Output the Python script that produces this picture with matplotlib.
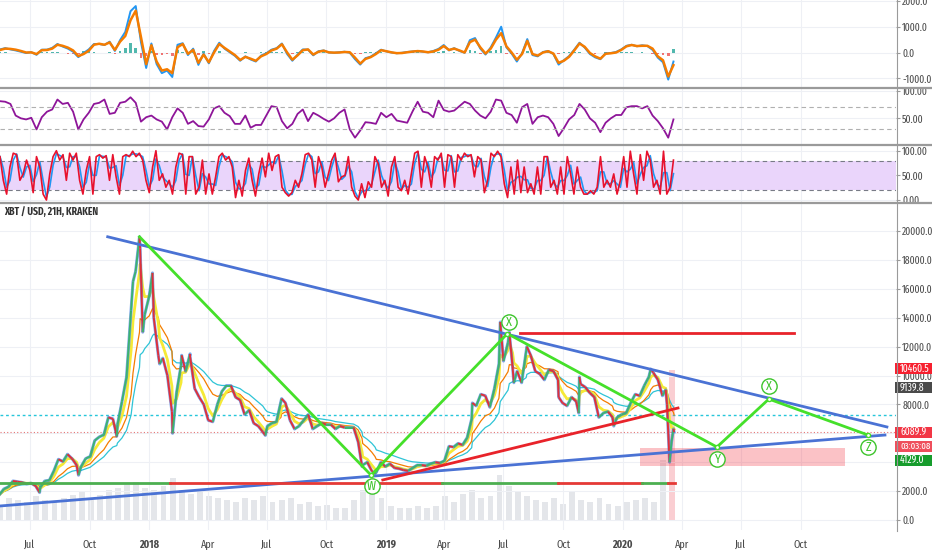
import matplotlib
matplotlib.use('Agg')
import matplotlib.pyplot as plt
from matplotlib.collections import LineCollection
from matplotlib.lines import Line2D
from matplotlib.patches import Rectangle
from matplotlib.ticker import FormatStrFormatter
import matplotlib.dates as mdates
import numpy as np
import pandas as pd

plt.rcParams['font.family'] = ['Fira Sans Extra Condensed', 'DejaVu Sans']

# ---- price data (weekly closes, Kraken XBT/USD) ----
week_start = '2017-05-15'
weekly_close = [1750, 2150, 2300,
                2700, 2650, 2600, 2500,
                2550, 2350, 2250, 2700, 2750,
                3400, 4200, 4050, 4550,
                4250, 3800, 3700, 4250,
                4400, 5500, 5750, 5900, 7100,
                7000, 6600, 8200, 9900,
                14500, 17200, 18800, 14200,
                15500, 14000, 11400, 11200, 10000,
                7500, 8800, 10700, 10300,
                11300, 9100, 8500, 8000,
                6900, 6800, 8000, 8900, 9300,
                9300, 8500, 8300, 7300,
                7600, 6700, 6500, 6100,
                6500, 6700, 6800, 8200, 8100,
                6900, 6300, 6500, 6900,
                7300, 6300, 6500, 6700,
                6600, 6600, 6300, 6500, 6400,
                6400, 6400, 5400, 3800,
                4000, 3400, 3300, 4000, 3700,
                3900, 3600, 3550, 3450,
                3400, 3600, 3800, 3800,
                3750, 3900, 4000, 3950,
                4100, 5100, 5050, 5300, 5200,
                5700, 7000, 7900, 8700,
                8600, 7800, 9100, 10800,
                11000, 12300, 10600, 10300, 9500,
                11700, 11400, 10300, 10100,
                9700, 10400, 10300, 9700, 8100,
                7900, 8500, 8200, 9400,
                9200, 8800, 8500, 7100,
                7400, 7500, 7100, 7100, 7300,
                7400, 8100, 8700, 8600,
                9300, 9900, 10200, 9700,
                8600, 8000, 5400]
spike_dates = ['2017-07-16', '2017-09-14', '2017-11-12', '2017-12-07', '2017-12-17',
               '2017-12-22', '2018-01-06', '2018-01-17', '2018-02-06', '2018-02-20',
               '2018-03-05', '2018-06-29', '2018-07-24', '2018-11-25', '2018-12-15',
               '2019-05-14', '2019-06-26', '2019-07-10', '2019-07-17', '2019-08-06',
               '2019-09-24', '2019-10-25', '2019-10-26', '2019-12-18', '2020-02-13',
               '2020-03-07', '2020-03-13', '2020-03-19', '2020-03-20']
spike_prices = [1900, 3100, 5800, 16500, 19600,
                13000, 17100, 10800, 6000, 11400,
                11500, 5850, 8400, 3700, 3200,
                8100, 13700, 13000, 9500, 12000,
                8500, 7400, 9900, 6500, 10450,
                9000, 4000, 6300, 6090]

# volume, every 14 days from the first bar
vol_start = '2017-05-16'
volume = [15, 22, 20, 18, 24, 20, 18, 22, 25, 28,
          20, 25, 30, 32, 35, 38, 32, 30, 34, 42,
          30, 26, 28, 24, 22, 20, 18, 22, 20, 24,
          18, 20, 22, 16, 18, 14, 15, 12, 12, 20,
          30, 26, 22, 14, 12, 12, 14, 12, 14, 24,
          18, 26, 30, 22, 24, 45, 34, 28, 24, 20,
          18, 22, 16, 28, 20, 18, 22, 16, 14, 18,
          20, 22, 18, 60, 150]

# ---- oscillators (evenly spaced from first to last bar) ----
osc_start, osc_end = '2017-05-16', '2020-03-19'
macd_signal = [97, 150, 140, 110, 60, 0, 5, -60, 90, 97,
               150, 300, 260, 190, 80, -140, -60, 70, 300, 340,
               300, 390, 100, 420, 640, 1250, 1620, 600, -450, 280,
               -350, -700, -650, -800, 200, 330, -50, 100, -400, -80,
               -380, 0, 330, 180, 40, -100, -290, -170, -240, -320,
               -150, -60, 80, 150, 320, 0, -280, -110, 90, 120,
               -80, 30, 70, 5, -5, 0, 20, 10, -200, -430,
               -250, -180, -60, 90, 50, 5, -25, -20, 10, 35,
               55, 40, 10, 40, 110, 250, 100, 150, 80, 0,
               400, 500, 200, -40, 150, 500, 750, 240, 0, -280,
               -60, 450, -60, -120, 0, 50, -40, -400, -320, -170,
               80, 350, 220, -20, -150, -240, -50, -30, 0, 100,
               240, 290, 250, 260, 260, 150, -150, -300, -930, -490]
macd_line = [120, 170, 120, 80, 30, -20, 10, -90, 110, 110,
             180, 330, 230, 150, 30, -180, -20, 120, 330, 330,
             290, 420, 60, 480, 800, 1600, 1800, 400, -600, 350,
             -450, -800, -700, -950, 300, 360, -100, 150, -480, -40,
             -420, 60, 380, 150, 10, -130, -320, -150, -270, -350,
             -120, -30, 110, 170, 350, -60, -320, -80, 120, 110,
             -110, 50, 80, 0, -10, 10, 30, -10, -260, -470,
             -220, -160, -30, 110, 40, 0, -30, -10, 20, 40,
             60, 30, 10, 60, 140, 290, 80, 170, 60, -10,
             480, 560, 150, -80, 200, 580, 1000, 200, -40, -350,
             -30, 520, -100, -150, 20, 60, -60, -470, -300, -140,
             110, 380, 190, -60, -190, -260, -30, -20, 20, 120,
             260, 300, 240, 280, 250, 100, -200, -380, -1050, -350]
rsi = [81, 80, 76, 55, 50, 48, 51, 30, 52, 62,
       66, 84, 76, 78, 62, 30, 48, 60, 76, 78,
       84, 58, 60, 78, 80, 88, 78, 44, 52, 55,
       48, 44, 30, 52, 68, 60, 40, 45, 36, 35,
       48, 68, 72, 60, 54, 40, 40, 55, 33, 38,
       38, 55, 72, 70, 45, 32, 40, 58, 66, 45,
       60, 55, 49, 44, 50, 60, 66, 30, 15, 28,
       43, 42, 40, 60, 52, 58, 46, 44, 42, 62,
       80, 62, 60, 52, 82, 65, 62, 64, 72, 80,
       76, 64, 55, 50, 62, 84, 82, 60, 56, 42,
       70, 76, 40, 52, 55, 52, 40, 18, 32, 48,
       56, 76, 66, 50, 42, 25, 42, 50, 56, 56,
       70, 72, 72, 68, 72, 55, 45, 32, 15, 48]
stoch_k = [88, 40, 12, 67, 95, 92, 40, 53, 81, 60, 15, 88, 67, 12, 0, 53, 88, 100, 81, 92,
           40, 95, 81, 95, 40, 12, 60, 88, 12, 88, 92, 85, 90, 40, 92, 47, 12, 88, 92, 88,
           99, 88, 95, 81, 40, 15, 67, 100, 40, 53, 26, 40, 12, 67, 95, 92, 12, 88, 88, 12,
           26, 81, 12, 53, 12, 47, 88, 95, 81, 88, 67,
           5, 40, 8, 60, 85, 40, 8, 53, 85, 47, 95, 60, 88, 92, 26, 15, 8, 15, 40, 26,
           53, 92, 95, 81, 26, 88, 67, 26, 53, 81, 95, 37, 47, 50, 88, 26, 8, 0, 33, 5,
           37, 26, 88, 74, 26, 40, 8, 67, 88, 26, 19, 40, 12, 53, 95, 99, 26, 88, 67, 26,
           88, 81, 95, 26, 92, 88, 26,
           92, 81, 95, 88, 92, 47, 88, 81, 15, 40, 95, 88, 99, 88, 33, 5, 67, 12, 81, 15,
           67, 15, 33, 12, 67, 12, 88, 88, 26, 40, 12, 67, 12, 88, 53, 12, 67, 26, 12, 12,
           19, 12, 26, 88, 26, 40, 26, 53, 12, 40, 88, 26, 99, 53, 12, 92, 40, 99, 81, 26,
           40, 12, 99, 12, 26, 81]

# ---- drawings on the price pane ----
desc_dates, desc_prices = ['2017-10-29', '2021-02-11'], [19600, 6440]
asc_dates, asc_prices = ['2017-05-16', '2021-02-08'], [970, 5880]
wave_dates = ['2017-12-17', '2018-12-09', '2019-07-07', '2020-05-25', '2020-08-13', '2021-01-13']
wave_prices = [19600, 3100, 12900, 5050, 8370, 5880]
wave_labels = ['W', 'X', 'Y', 'X', 'Z']
label_dates = ['2018-12-10', '2019-07-09', '2020-05-25', '2020-08-13', '2021-01-13']
label_prices = [2350, 13700, 4220, 9270, 5050]
rise_dates, rise_prices = ['2018-12-27', '2020-03-26'], [2770, 7750]
top_dates, top_price = ['2019-07-26', '2020-09-21'], 12940
support_dates = ['2017-05-16', '2018-02-02', '2019-03-28', '2019-09-23', '2020-01-30', '2020-03-11', '2020-03-21']
support_price = 2560
zone_dates, zone_low, zone_high = ['2020-01-27', '2020-12-08'], 3740, 4980
cyan_level, red_level = 7270, 6090
price_ticks = [0, 2000, 8000, 10000, 12000, 14000, 16000, 18000, 20000]
tags = [(10460.5, '10460.5', '#f7202f'), (9139.8, '9139.8', '#4a4a4a'),
        (6089.9, '6089.9', '#f23645'), (5120, '03:03:08', '#ef4f5c'),
        (4129.0, '4129.0', '#169c2c')]

tick_dates = ['2017-07-01', '2017-10-01', '2018-01-01', '2018-04-01', '2018-07-01', '2018-10-01',
              '2019-01-01', '2019-04-01', '2019-07-01', '2019-10-01', '2020-01-01', '2020-04-01',
              '2020-07-01', '2020-10-01']
tick_labels = ['Jul', 'Oct', '2018', 'Apr', 'Jul', 'Oct', '2019', 'Apr', 'Jul', 'Oct', '2020', 'Apr', 'Jul', 'Oct']

# ---- build series ----
price = pd.concat([
    pd.Series(weekly_close, index=pd.date_range(week_start, periods=len(weekly_close), freq='7D')),
    pd.Series(spike_prices, index=pd.to_datetime(spike_dates))]).sort_index()
ema_fast = price.ewm(halflife='6 days', times=price.index).mean()
ema_mid = price.ewm(halflife='18 days', times=price.index).mean()
ema_slow = price.ewm(halflife='32 days', times=price.index).mean()

osc_idx = pd.date_range(osc_start, osc_end, periods=len(macd_signal))
rsi_idx = pd.date_range(osc_start, osc_end, periods=len(rsi))
st_idx = pd.date_range(osc_start, osc_end, periods=len(stoch_k))
stoch_d = pd.Series(stoch_k).rolling(2, min_periods=1).mean()
hist = np.array(macd_line) - np.array(macd_signal)

W, H = 932, 550
fig = plt.figure(figsize=(W / 100, H / 100), dpi=100)


def rect(top, bottom):
    return [0, 1 - bottom / H, 896 / W, (bottom - top) / H]


ax_macd = fig.add_axes(rect(0, 88))
ax_rsi = fig.add_axes(rect(89, 144), sharex=ax_macd)
ax_st = fig.add_axes(rect(145, 202), sharex=ax_macd)
ax = fig.add_axes(rect(203, 530), sharex=ax_macd)
ax_vol = ax.twinx()
ax_vol.set_zorder(ax.get_zorder() - 1)
ax.patch.set_visible(False)
ax_vol.axis('off')

grid_c = '#eef0f5'
for a in (ax_macd, ax_rsi, ax_st, ax):
    for s in a.spines.values():
        s.set_visible(False)
    a.yaxis.tick_right()
    a.tick_params(axis='y', direction='out', length=3, color='#9a9a9a', labelsize=7.5,
                  labelcolor='#4a4a4a', pad=1.5)
    a.tick_params(axis='x', length=0, labelbottom=False)
    a.grid(True, color=grid_c, lw=0.8)
    a.set_axisbelow(True)

ax.set_xlim(pd.Timestamp('2017-05-16'), pd.Timestamp('2021-02-25'))
ax.set_xticks(pd.to_datetime(tick_dates), tick_labels)
ax.tick_params(axis='x', labelbottom=True, labelsize=8, labelcolor='#4a4a4a', pad=7)
for t in ax.get_xticklabels():
    if t.get_text().isdigit():
        t.set_fontweight('bold')

# ---- MACD pane ----
ax_macd.bar(osc_idx, hist, width=4, color=np.where(hist >= 0, '#26a69a', '#ef5350'), alpha=0.8)
ax_macd.plot(osc_idx, macd_line, color='#2196f3', lw=1.4)
ax_macd.plot(osc_idx, macd_signal, color='#f57c00', lw=1.8)
ax_macd.set_ylim(-1376, 2035)
ax_macd.set_yticks([2000, 1000, 0, -1000])
ax_macd.yaxis.set_major_formatter(FormatStrFormatter('%.1f'))

# ---- RSI pane ----
ax_rsi.plot(rsi_idx, rsi, color='#8e1599', lw=1.3)
for lvl in (70, 30):
    ax_rsi.axhline(lvl, color='#b0b0b0', lw=0.8, ls=(0, (4, 3)))
ax_rsi.set_ylim(3.6, 103)
ax_rsi.set_yticks([100, 50])
ax_rsi.yaxis.set_major_formatter(FormatStrFormatter('%.2f'))

# ---- Stoch RSI pane ----
ax_st.axhspan(20, 80, color='#ead5fb', lw=0)
for lvl in (80, 20):
    ax_st.axhline(lvl, color='#787b86', lw=0.8, ls=(0, (4, 3)))
ax_st.plot(st_idx, stoch_d, color='#2196f3', lw=1.2)
ax_st.plot(st_idx, stoch_k, color='#e8112d', lw=1.2)
ax_st.set_ylim(-4, 111.6)
ax_st.set_yticks([100, 50, 0])
ax_st.yaxis.set_major_formatter(FormatStrFormatter('%.2f'))

# ---- price pane ----
ax.set_ylim(-692, 21938)
ax.set_yticks(price_ticks)
ax.yaxis.set_major_formatter(FormatStrFormatter('%.1f'))
for lvl in (4000, 6000):
    ax.axhline(lvl, color=grid_c, lw=0.8, zorder=0)

vol_idx = pd.date_range(vol_start, periods=len(volume), freq='14D')
vol_col = ['#f6a6ad' if v > 100 else '#cfd2da' for v in volume]
ax_vol.bar(vol_idx, volume, width=9, color=vol_col, alpha=0.55, lw=0)
ax_vol.set_ylim(-10, 317)

ax.axhline(cyan_level, color='#26c6da', lw=1, ls=(0, (2, 2)))
ax.axhline(red_level, color='#e57373', lw=0.8, ls=(0, (1, 2)))

ax.plot(price.index, ema_slow, color='#2ec4d6', lw=0.9)
ax.plot(price.index, ema_mid, color='#f57c00', lw=0.9)
ax.plot(price.index, ema_fast, color='#f5e936', lw=2)
ax.plot(price.index, price.values, color='#2f6fe0', lw=2.2, alpha=0.6, zorder=3)
xs = mdates.date2num(price.index)
pts = np.column_stack([xs, price.values])
segs = np.stack([pts[:-1], pts[1:]], axis=1)
seg_col = np.where(np.diff(price.values) >= 0, '#3cb371', '#e0303a')
ax.add_collection(LineCollection(segs, colors=seg_col, lw=1.4, zorder=3))

ax.fill_between(pd.to_datetime(zone_dates), zone_low, zone_high, color='#f23645', alpha=0.3, lw=0)
ax.plot(pd.to_datetime(desc_dates), desc_prices, color='#4a72d4', lw=2, zorder=4)
ax.plot(pd.to_datetime(asc_dates), asc_prices, color='#4a72d4', lw=2, zorder=4)
ax.plot(pd.to_datetime(rise_dates), rise_prices, color='#e8232a', lw=2, zorder=4)
ax.plot(pd.to_datetime(top_dates), [top_price] * 2, color='#e8232a', lw=2, zorder=4)
sd = pd.to_datetime(support_dates)
for i in range(len(sd) - 1):
    ax.plot(sd[i:i + 2], [support_price] * 2, color='#4caf50' if i % 2 == 0 else '#e53935', lw=2, zorder=4)
ax.plot(pd.to_datetime(wave_dates), wave_prices, color='#45e02a', lw=2, zorder=5,
        marker='o', ms=3, mfc='white', mec='#45e02a', markevery=[1, 2, 3, 4, 5])
for d, p, s in zip(pd.to_datetime(label_dates), label_prices, wave_labels):
    ax.plot(d, p, marker='o', ms=11, mfc='white', mec='#3cc42a', mew=1, zorder=6)
    ax.text(d, p, s, color='#3cc42a', fontsize=9.5, ha='center', va='center', zorder=7)

ax.text(4 / 896, 1 - 9 / 327, 'XBT / USD, 21H, KRAKEN', transform=ax.transAxes,
        fontsize=7.5, color='#333333', fontweight='bold', va='center')

# price tags on the scale
tag_h = 11 / 327 * (21938 + 692)
ytrans = ax.get_yaxis_transform()
for val, txt, col in tags:
    ax.add_patch(Rectangle((895 / 896, val - tag_h / 2), 37 / 896, tag_h, transform=ytrans,
                           fc=col, ec='none', clip_on=False, zorder=10))
    ax.text(900 / 896, val, txt, transform=ytrans, ha='left', va='center',
            fontsize=7 if ':' in txt else 7.5, color='white', zorder=11, clip_on=False)

# pane separators and price scale border
for y in (88, 144.5, 202.5):
    fig.add_artist(Line2D([0, 1], [1 - y / H] * 2, transform=fig.transFigure, color='#9a9a9a', lw=1.6))
fig.add_artist(Line2D([896.5 / W] * 2, [1 - 531 / H, 1], transform=fig.transFigure, color='#9a9a9a', lw=0.8))

fig.savefig('out.png', dpi=100, facecolor='white')
